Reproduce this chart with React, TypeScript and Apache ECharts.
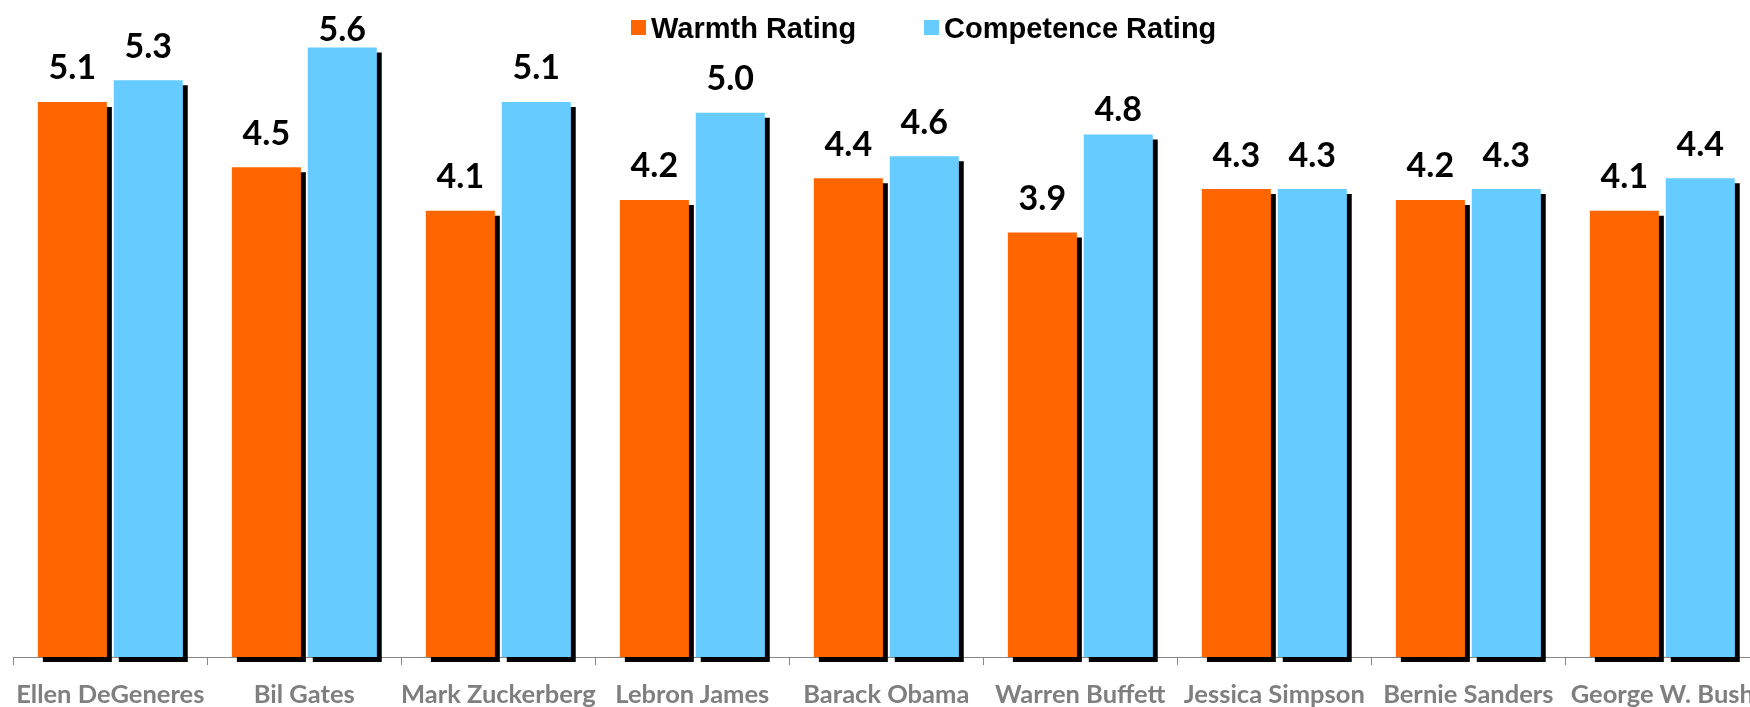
import React, { useEffect, useRef } from "react";
import * as echarts from "echarts";

const categories = [
  "Ellen DeGeneres",
  "Bil Gates",
  "Mark Zuckerberg",
  "Lebron James",
  "Barack Obama",
  "Warren Buffett",
  "Jessica Simpson",
  "Bernie Sanders",
  "George W. Bush",
];
const warmth = [5.1, 4.5, 4.1, 4.2, 4.4, 3.9, 4.3, 4.2, 4.1];
const competence = [5.3, 5.6, 5.1, 5.0, 4.6, 4.8, 4.3, 4.3, 4.4];
const seriesNames = ["Warmth Rating", "Competence Rating"];

// label distance tweaks (style only): [seriesIndex, categoryIndex, distance]
const labelTweaks: [number, number, number][] = [
  [1, 1, 3],
  [1, 5, 10],
];

export default function App() {
  const ref = useRef<HTMLDivElement>(null);
  useEffect(() => {
    if (!ref.current) return;
    const chart = echarts.init(ref.current, undefined, { renderer: "svg" });
    const barStyle = (color: string) => ({
      color,
      shadowColor: "#000000",
      shadowBlur: 0,
      shadowOffsetX: 5,
      shadowOffsetY: 5,
    });
    const label = {
      show: true,
      position: "top",
      distance: 19,
      color: "#000000",
      fontFamily: "Lato",
      fontWeight: "bold",
      fontSize: 34,
      formatter: (p: any) => Number(p.value).toFixed(1),
    };
    const buildData = (vals: number[], si: number) =>
      vals.map((v, i) => {
        const t = labelTweaks.find((x) => x[0] === si && x[1] === i);
        return t ? { value: v, label: { distance: t[2] } } : v;
      });
    const legendText = {
      fontFamily: "Liberation Sans",
      fontWeight: "bold",
      fontSize: 29,
      color: "#000000",
    };
    chart.setOption({
      animation: false,
      legend: [
        {
          data: [seriesNames[0]],
          left: 631,
          top: 13,
          icon: "rect",
          itemWidth: 15,
          itemHeight: 15,
          itemGap: 0,
          padding: 0,
          textStyle: legendText,
        },
        {
          data: [seriesNames[1]],
          left: 924,
          top: 13,
          icon: "rect",
          itemWidth: 15,
          itemHeight: 15,
          itemGap: 0,
          padding: 0,
          textStyle: legendText,
        },
      ],
      grid: {
        left: 13.3,
        top: 4,
        width: 1746,
        height: 653,
        containLabel: false,
        outerBoundsMode: "none",
      },
      xAxis: {
        type: "category",
        data: categories,
        axisLine: { show: true, lineStyle: { color: "#868686", width: 1 } },
        axisTick: { show: true, length: 8, lineStyle: { color: "#868686" } },
        axisLabel: {
          interval: 0,
          margin: 23,
          color: "#7F7F7F",
          fontFamily: "Lato",
          fontWeight: "bold",
          fontSize: 25.5,
        },
      },
      yAxis: {
        type: "value",
        min: 0,
        max: 6,
        show: false,
        splitLine: { show: false },
      },
      series: [
        {
          name: seriesNames[0],
          type: "bar",
          data: buildData(warmth, 0),
          barWidth: 69,
          barGap: "10%",
          itemStyle: barStyle("#FF6600"),
          label,
        },
        {
          name: seriesNames[1],
          type: "bar",
          data: buildData(competence, 1),
          barWidth: 69,
          barGap: "10%",
          itemStyle: barStyle("#66CCFF"),
          label,
        },
      ],
    });
    return () => chart.dispose();
  }, []);
  return (
    <div
      ref={ref}
      style={{ position: "fixed", left: 0, top: 0, width: 1750, height: 707 }}
    />
  );
}
